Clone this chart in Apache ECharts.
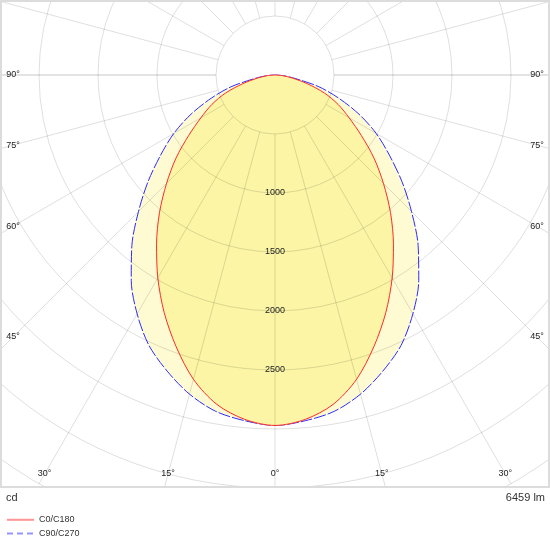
<!DOCTYPE html>
<html><head><meta charset="utf-8">
<script src="https://cdn.jsdelivr.net/npm/echarts@6/dist/echarts.min.js"></script>
<style>html,body{margin:0;padding:0;background:#fff}#c{width:550px;height:550px}</style>
</head><body><div id="c"></div>
<script>
// ---- data ----
const gammaAngles = [0,5,10,15,20,25,30,35,40,45,50,55,60,65,70,75,80,85,90];
const c0c180  = [2970,2930,2835,2670,2450,2222,1986,1750,1523,1300,1095,893,725,590,445,280,150,65,0];
const c90c270 = [2970,2941,2894,2800,2671,2528,2337,2124,1887,1636,1404,1183,990,785,575,385,180,75,0];
const seriesNames = ['C0/C180','C90/C270'];
const ringLabels = [1000,1500,2000,2500];
const angleTickLabels = [90,75,60,45,30,15,0];
const unitText = 'cd';
const fluxText = '6459 lm';

// ---- layout ----
const CX = 275, CY = 75, R0 = 59, R1 = 472;
const FONT = 'Liberation Sans';

function loop(vals){
  const pts = [];
  for (let i = gammaAngles.length - 1; i >= 0; i--) pts.push([vals[i], 360 - gammaAngles[i]]);
  for (let i = 1; i < gammaAngles.length; i++) pts.push([vals[i], gammaAngles[i]]);
  return pts;
}

const LBL_XMIN = 13, LBL_XMAX = 537, LBL_YMAX = 474;
const angleLabelEls = [];
angleTickLabels.forEach(g => {
  const sides = g === 0 ? [1] : [-1, 1];
  sides.forEach(s => {
    const rad = g * Math.PI / 180;
    const dx = s * Math.sin(rad), dy = Math.cos(rad);
    let t = Infinity;
    if (Math.abs(dx) > 1e-9) t = Math.min(t, (dx < 0 ? CX - LBL_XMIN : LBL_XMAX - CX) / Math.abs(dx));
    if (dy > 1e-9) t = Math.min(t, (LBL_YMAX - CY) / dy);
    angleLabelEls.push({
      type: 'text', x: CX + t * dx, y: CY + t * dy, z: 55,
      style: { text: g + '°', font: '9px "' + FONT + '"', fill: '#222',
               textAlign: 'center', textVerticalAlign: 'middle', align: 'center', verticalAlign: 'middle' }
    });
  });
});

const grid = 'rgba(0,0,0,0.13)';
const hidden = { axisLine: { show: false }, axisTick: { show: false }, axisLabel: { show: false }, splitLine: { show: false } };
const chart = echarts.init(document.getElementById('c'));
chart.setOption({
  animation: false,
  polar: [
    { center: [CX, CY], radius: [R0, R1] },   // grid (rings from 500 cd, spokes start at inner ring)
    { center: [CX, CY], radius: [0, R1] },    // data
    { center: [CX, CY], radius: [R0, R1] }    // emphasised horizontal (90°) spoke
  ],
  angleAxis: [
    { polarIndex: 0, type: 'value', min: 0, max: 360, interval: 15, startAngle: 270, clockwise: true, z: 10,
      axisLine: { show: false }, axisTick: { show: false }, axisLabel: { show: false },
      splitLine: { show: true, lineStyle: { color: grid, width: 1 } } },
    Object.assign({ polarIndex: 1, type: 'value', min: 0, max: 360, startAngle: 270, clockwise: true }, hidden),
    { polarIndex: 2, type: 'value', min: 90, max: 450, interval: 180, startAngle: 180, clockwise: true, z: 10,
      axisLine: { show: false }, axisTick: { show: false }, axisLabel: { show: false },
      splitLine: { show: true, lineStyle: { color: 'rgba(0,0,0,0.05)', width: 2 } } }
  ],
  radiusAxis: [
    { polarIndex: 0, type: 'value', min: 500, max: 4000, interval: 500, z: 10,
      axisLine: { show: false }, axisTick: { show: false },
      axisLabel: { show: true, margin: 0, align: 'center', verticalAlign: 'middle',
        fontSize: 9, color: '#222', fontFamily: FONT,
        formatter: v => ringLabels.includes(v) ? String(v) : '' },
      splitLine: { show: true, lineStyle: { color: grid, width: 1 } } },
    Object.assign({ polarIndex: 1, type: 'value', min: 0, max: 4000 }, hidden),
    Object.assign({ polarIndex: 2, type: 'value', min: 500, max: 4000 }, hidden)
  ],
  legend: {
    orient: 'vertical', left: 6, top: 515, itemWidth: 27, itemHeight: 12, itemGap: 4, z: 60,
    padding: 0, selectedMode: false,
    data: [{ name: seriesNames[0] }, { name: seriesNames[1], lineStyle: { type: [6, 4] } }],
    textStyle: { fontSize: 9, color: '#333', fontFamily: FONT },
    itemStyle: { opacity: 0 },
    lineStyle: { width: 2, opacity: 0.5 }
  },
  series: [
    { name: seriesNames[1], type: 'line', coordinateSystem: 'polar', polarIndex: 1, data: loop(c90c270),
      symbol: 'none', smooth: 0.3, clip: false, z: 2,
      lineStyle: { color: '#2b2bff', width: 1, type: [12, 2] }, itemStyle: { color: '#2b2bff' },
      areaStyle: { color: '#fefbd3', opacity: 1, origin: 0 } },
    { name: seriesNames[0], type: 'line', coordinateSystem: 'polar', polarIndex: 1, data: loop(c0c180),
      symbol: 'none', smooth: 0.3, clip: false, z: 3,
      lineStyle: { color: '#ff2a2a', width: 1 }, itemStyle: { color: '#ff2a2a' },
      areaStyle: { color: '#fbf5a5', opacity: 1, origin: 0 } }
  ],
  graphic: [
    { type: 'rect', z: 50, shape: { x: 0, y: 488, width: 550, height: 62 }, style: { fill: '#fff' } },
    { type: 'rect', z: 51, shape: { x: 1, y: 1, width: 548, height: 486 },
      style: { fill: 'none', stroke: '#dcdcdc', lineWidth: 2 } },
    { type: 'text', z: 55, x: 6, y: 498,
      style: { text: unitText, font: '11px "' + FONT + '"', fill: '#333',
               textAlign: 'left', textVerticalAlign: 'middle', align: 'left', verticalAlign: 'middle' } },
    { type: 'text', z: 55, x: 545, y: 498,
      style: { text: fluxText, font: '11px "' + FONT + '"', fill: '#333',
               textAlign: 'right', textVerticalAlign: 'middle', align: 'right', verticalAlign: 'middle' } }
  ].concat(angleLabelEls)
});
</script>
</body></html>
